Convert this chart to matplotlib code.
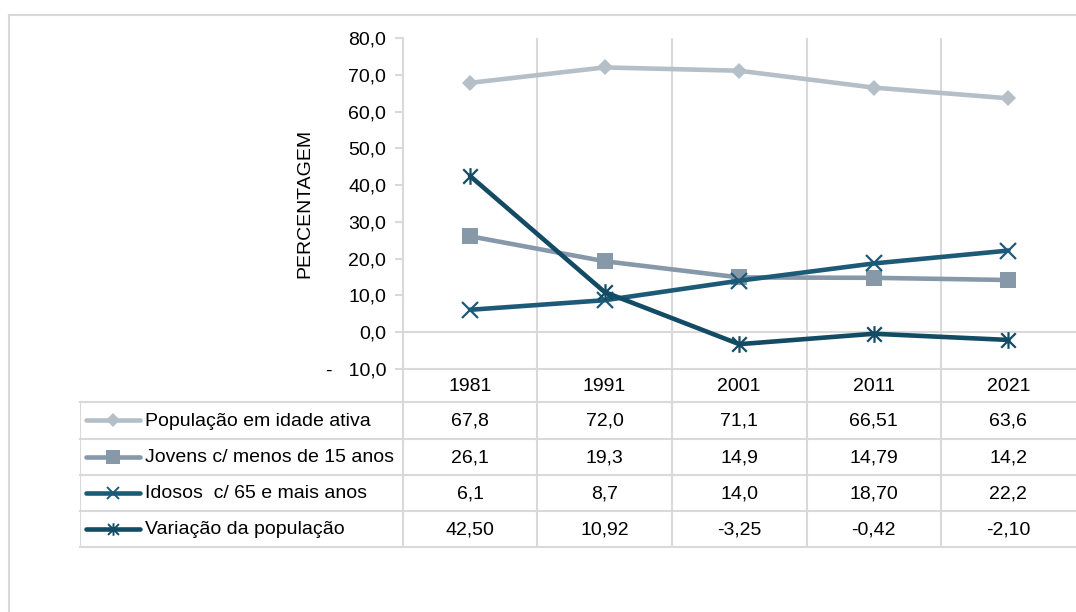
import matplotlib
matplotlib.use("Agg")
import matplotlib.pyplot as plt
from matplotlib import font_manager
from matplotlib.lines import Line2D
from matplotlib.path import Path
from matplotlib.ticker import FuncFormatter

# ---- data ----
years = ["1981", "1991", "2001", "2011", "2021"]
series_names = [
    "População em idade ativa",
    "Jovens c/ menos de 15 anos",
    "Idosos  c/ 65 e mais anos",
    "Variação da população",
]
pop_ativa = ["67,8", "72,0", "71,1", "66,51", "63,6"]
jovens = ["26,1", "19,3", "14,9", "14,79", "14,2"]
idosos = ["6,1", "8,7", "14,0", "18,70", "22,2"]
variacao = ["42,50", "10,92", "-3,25", "-0,42", "-2,10"]
y_ticks = [-10, 0, 10, 20, 30, 40, 50, 60, 70, 80]


def to_num(items):
    return [float(s.replace(",", ".")) for s in items]


# ---- fonts ----
avail = {f.name for f in font_manager.fontManager.ttflist}
FONT = "Liberation Sans Narrow" if "Liberation Sans Narrow" in avail else "Liberation Sans"
plt.rcParams["font.family"] = [FONT, "DejaVu Sans"]
FS = 15 if FONT.endswith("Narrow") else 14

# ---- styles ----
GRID = "#D9D9D9"
colors = ["#B5BFC8", "#8798A9", "#1C5A78", "#124B63"]
asterisk = Path(
    [(-1, -1), (1, 1), (-1, 1), (1, -1), (0, -1.15), (0, 1.15)],
    [Path.MOVETO, Path.LINETO] * 3,
)
markers = [
    dict(marker="D", markersize=8, markeredgewidth=0),
    dict(marker="s", markersize=12, markeredgewidth=0),
    dict(marker="x", markersize=12, markeredgewidth=1.6),
    dict(marker=asterisk, markersize=12, markeredgewidth=1.6),
]
legend_markers = [
    dict(marker="D", markersize=7, markeredgewidth=0),
    dict(marker="s", markersize=10, markeredgewidth=0),
    dict(marker="x", markersize=9, markeredgewidth=1.4),
    dict(marker=asterisk, markersize=9, markeredgewidth=1.4),
]
table_cells = [pop_ativa, jovens, idosos, variacao]

# ---- figure / layout (pixel helpers) ----
W, H = 1076, 612
fig = plt.figure(figsize=(W / 100, H / 100), dpi=100)


def fx(px):
    return px / W


def fy(py):
    return 1 - py / H


cw = 134.6     # category width in pixels
c0 = 470.0     # centre of first category
x_right = 1078

ax = fig.add_axes([fx(403), fy(369), (x_right - 403) / W, (369 - 38) / H])
ax.set_xlim((403 - c0) / cw, (x_right - c0) / cw)
ax.set_ylim(-10, 80)
ax.set_yticks(y_ticks)


def fmt(v, _pos):
    s = f"{abs(v):.1f}".replace(".", ",")
    return ("-   " + s) if v < 0 else s


ax.yaxis.set_major_formatter(FuncFormatter(fmt))
ax.set_xticks([])
for side in ["top", "right", "bottom"]:
    ax.spines[side].set_visible(False)
ax.spines["left"].set_color(GRID)
ax.spines["left"].set_linewidth(1.5)
ax.tick_params(axis="y", length=6, width=1.5, color=GRID, pad=6,
               labelsize=FS, labelcolor="black")
ax.patch.set_alpha(0)

# category separators and zero line
for i in range(len(years) - 1):
    ax.axvline(i + 0.5, color=GRID, lw=1.5, zorder=0)
ax.axhline(0, color=GRID, lw=1.5, zorder=0)

xs = list(range(len(years)))
for vals, col, mk in zip(table_cells, colors, markers):
    ax.plot(xs, to_num(vals), color=col, lw=3.3, markerfacecolor=col,
            markeredgecolor=col, solid_capstyle="round", zorder=3, **mk)

fig.text(fx(305), fy(203), "PERCENTAGEM", rotation=90, ha="center",
         va="center", fontsize=FS)

# ---- data table ----
tab = fig.add_axes([fx(80), fy(547), (x_right - 80) / W, (547 - 369) / H])
tab.set_xlim((80 - c0) / cw, (x_right - c0) / cw)
tab.set_ylim(547, 369)
tab.axis("off")
tab.patch.set_alpha(0)

left_edge = (80 - c0) / cw
xr = (x_right - c0) / cw
row_y = [369, 402, 438.5, 475, 511, 547]

tab.plot([-0.5, xr], [row_y[0]] * 2, color=GRID, lw=1.5, clip_on=False)
for y in row_y[1:]:
    tab.plot([left_edge, xr], [y, y], color=GRID, lw=1.5, clip_on=False)
for i in range(len(years)):
    tab.plot([i - 0.5] * 2, [row_y[0], row_y[-1]], color=GRID, lw=1.5)
tab.plot([left_edge] * 2, [row_y[1], row_y[-1]], color=GRID, lw=1.5)

for i, yr in enumerate(years):
    tab.text(i, (row_y[0] + row_y[1]) / 2 + 1, yr, ha="center", va="center",
             fontsize=FS)

lx0, lx1, lxm, ltx = [(p - c0) / cw for p in (86, 140, 113, 145)]
for r, (name, vals, col, mk) in enumerate(zip(series_names, table_cells,
                                               colors, legend_markers)):
    yc = (row_y[r + 1] + row_y[r + 2]) / 2
    tab.plot([lx0, lx1], [yc, yc], color=col, lw=3.3, solid_capstyle="round")
    tab.plot([lxm], [yc], color=col, markerfacecolor=col,
             markeredgecolor=col, **mk)
    tab.text(ltx, yc + 1, name, ha="left", va="center", fontsize=FS)
    for i, s in enumerate(vals):
        tab.text(i, yc + 1, s, ha="center", va="center", fontsize=FS)

# ---- outer chart frame ----
fig.add_artist(Line2D([fx(9), 1], [fy(15), fy(15)], transform=fig.transFigure,
                      color=GRID, lw=1.5))
fig.add_artist(Line2D([fx(9), fx(9)], [fy(15), 0], transform=fig.transFigure,
                      color=GRID, lw=1.5))

fig.savefig("out.png", dpi=100)
